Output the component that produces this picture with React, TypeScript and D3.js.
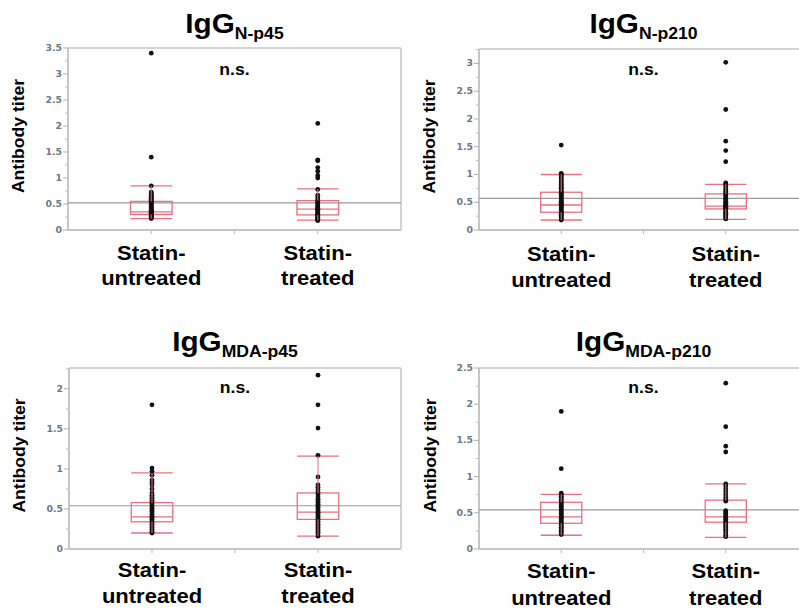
import * as d3 from 'd3';

// group labels (two lines each)
const groups = ['Statin-untreated', 'Statin-treated'];
const groupLines = [['Statin-', 'untreated'], ['Statin-', 'treated']];

// panel titles: "IgG" + subscript
const titleSubs = ['N-p45', 'N-p210', 'MDA-p45', 'MDA-p210'];
const yMaxes = [3.5, 3.26, 2.26, 2.5];
const grandMeans = [0.52, 0.57, 0.54, 0.54];

// individual antibody titers
const np45Untreated = [3.40, 1.40, 0.85, 0.73, 0.71, 0.69, 0.67, 0.65, 0.63, 0.61, 0.59, 0.57, 0.55, 0.53, 0.51, 0.49, 0.47, 0.45, 0.43, 0.41, 0.39, 0.38, 0.37, 0.36, 0.35, 0.34, 0.33, 0.32, 0.31, 0.30, 0.29, 0.28, 0.27, 0.26, 0.25, 0.24, 0.23, 0.22];
const np45Treated = [2.05, 1.35, 1.33, 1.20, 1.13, 1.05, 1.00, 0.78, 0.67, 0.62, 0.58, 0.55, 0.53, 0.50, 0.48, 0.46, 0.44, 0.42, 0.41, 0.40, 0.39, 0.37, 0.35, 0.33, 0.31, 0.30, 0.29, 0.28, 0.26, 0.25, 0.23, 0.22, 0.21, 0.20, 0.19, 0.18];
const np210Untreated = [1.53, 1.02, 1.00, 0.98, 0.95, 0.92, 0.90, 0.87, 0.85, 0.82, 0.80, 0.77, 0.75, 0.72, 0.70, 0.68, 0.66, 0.64, 0.62, 0.60, 0.58, 0.56, 0.54, 0.52, 0.50, 0.48, 0.46, 0.45, 0.44, 0.42, 0.40, 0.38, 0.36, 0.34, 0.32, 0.30, 0.28, 0.26, 0.24, 0.22, 0.20, 0.18];
const np210Treated = [3.02, 2.17, 1.60, 1.43, 1.23, 0.85, 0.83, 0.80, 0.76, 0.73, 0.70, 0.67, 0.65, 0.62, 0.60, 0.57, 0.55, 0.52, 0.50, 0.48, 0.46, 0.44, 0.43, 0.42, 0.41, 0.40, 0.39, 0.38, 0.36, 0.34, 0.32, 0.30, 0.28, 0.26, 0.24, 0.22, 0.20];
const mda45Untreated = [1.80, 1.01, 0.97, 0.92, 0.86, 0.83, 0.80, 0.75, 0.70, 0.67, 0.65, 0.63, 0.61, 0.59, 0.57, 0.55, 0.53, 0.51, 0.49, 0.47, 0.45, 0.43, 0.41, 0.40, 0.39, 0.37, 0.35, 0.33, 0.31, 0.29, 0.27, 0.25, 0.23, 0.21, 0.20];
const mda45Treated = [2.17, 1.80, 1.51, 1.17, 0.90, 0.80, 0.77, 0.74, 0.71, 0.68, 0.65, 0.62, 0.60, 0.58, 0.56, 0.54, 0.52, 0.50, 0.48, 0.46, 0.45, 0.43, 0.41, 0.39, 0.37, 0.35, 0.33, 0.31, 0.29, 0.27, 0.25, 0.23, 0.21, 0.19, 0.16];
const mda210Untreated = [1.90, 1.11, 0.77, 0.75, 0.73, 0.71, 0.69, 0.67, 0.65, 0.63, 0.61, 0.59, 0.57, 0.55, 0.53, 0.51, 0.49, 0.47, 0.45, 0.44, 0.42, 0.40, 0.38, 0.36, 0.34, 0.32, 0.30, 0.28, 0.26, 0.24, 0.22, 0.20];
const mda210Treated = [2.29, 1.69, 1.42, 1.34, 0.90, 0.87, 0.83, 0.79, 0.75, 0.71, 0.68, 0.66, 0.53, 0.51, 0.49, 0.47, 0.45, 0.43, 0.41, 0.39, 0.37, 0.35, 0.33, 0.31, 0.29, 0.27, 0.25, 0.22, 0.19, 0.17];

// box stats: [low whisker, q1, median, q3, high whisker]
const np45Boxes = [[0.22, 0.30, 0.35, 0.55, 0.85], [0.19, 0.29, 0.40, 0.565, 0.79]];
const np210Boxes = [[0.18, 0.32, 0.45, 0.68, 1.0], [0.19, 0.38, 0.43, 0.65, 0.82]];
const mda45Boxes = [[0.20, 0.34, 0.40, 0.58, 0.95], [0.16, 0.37, 0.46, 0.70, 1.16]];
const mda210Boxes = [[0.19, 0.355, 0.445, 0.645, 0.755], [0.16, 0.37, 0.445, 0.675, 0.90]];

const points = [
  [np45Untreated, np45Treated],
  [np210Untreated, np210Treated],
  [mda45Untreated, mda45Treated],
  [mda210Untreated, mda210Treated],
];
const boxes = [np45Boxes, np210Boxes, mda45Boxes, mda210Boxes];

// where each panel's plot sits on the page
const frames = [
  { x0: 68, x1: 401, y0: 48, y1: 230, titleY: 33, nsY: 75, labelX: 24, lineY: [260, 285] },
  { x0: 479, x1: 808, y0: 49, y1: 230, titleY: 33, nsY: 75, labelX: 435, lineY: [261, 287] },
  { x0: 69, x1: 401, y0: 368, y1: 549, titleY: 351, nsY: 393, labelX: 25, lineY: [577, 603] },
  { x0: 479, x1: 808, y0: 368, y1: 549, titleY: 351, nsY: 393, labelX: 436, lineY: [578, 605] },
];

const SANS = 'Liberation Sans, Arial, sans-serif';
const RED = '#ec6f7d';
const AXIS = '#c6c6c6';
const STRETCH = 1.1;

function Panel({ i }: { i: number }) {
  const f = frames[i];
  const y = d3.scaleLinear().domain([0, yMaxes[i]]).range([f.y1, f.y0]);
  const x = d3.scaleBand().domain(groups).range([f.x0, f.x1]).padding(0);
  const bw = x.bandwidth() * 0.25;
  const major = d3.range(0, yMaxes[i] + 0.001, 0.5);
  const minor = d3.range(0.25, yMaxes[i] + 0.001, 0.5);
  const cx = (f.x0 + f.x1) / 2;

  return (
    <g>
      {/* frame */}
      <line x1={f.x0} x2={f.x1} y1={f.y0} y2={f.y0} stroke={AXIS} strokeWidth={1.5} />
      <line x1={f.x1} x2={f.x1} y1={f.y0} y2={f.y1} stroke={AXIS} strokeWidth={1.5} />
      <line x1={f.x0} x2={f.x1} y1={f.y1} y2={f.y1} stroke={AXIS} strokeWidth={2} />
      <line x1={f.x0} x2={f.x0} y1={f.y0} y2={f.y1} stroke={AXIS} strokeWidth={2} />

      {/* y ticks */}
      {major.map(v => (
        <g key={'M' + v}>
          <line x1={f.x0 - 5} x2={f.x0} y1={y(v)} y2={y(v)} stroke="#b0b0b0" />
          <text
            transform={`translate(${f.x0 - 6},${y(v) + 3}) scale(${STRETCH},1)`}
            textAnchor="end"
            fontFamily="DejaVu Sans, Verdana, sans-serif"
            fontWeight="bold"
            fontSize={8.5}
            fill="#6c7888"
          >
            {d3.format('~g')(v)}
          </text>
        </g>
      ))}
      {minor.map(v => (
        <line key={'m' + v} x1={f.x0 - 3} x2={f.x0} y1={y(v)} y2={y(v)} stroke="#c0c0c0" />
      ))}

      {/* x ticks */}
      {[x(groups[0])! + x.bandwidth() / 2, cx, x(groups[1])! + x.bandwidth() / 2].map((t, k) => (
        <line key={k} x1={t} x2={t} y1={f.y1 + 1} y2={f.y1 + 4} stroke="#b8b8b8" />
      ))}

      {/* grand mean */}
      <line x1={f.x0} x2={f.x1} y1={y(grandMeans[i])} y2={y(grandMeans[i])} stroke="#9a9a9a" strokeWidth={1.2} />

      {groups.map((g, gi) => {
        const c = x(g)! + x.bandwidth() / 2;
        const [lo, q1, md, q3, hi] = boxes[i][gi];
        return (
          <g key={g}>
            <rect x={c - bw / 2} y={y(q3)} width={bw} height={y(q1) - y(q3)} fill="none" stroke={RED} strokeWidth={1.3} />
            <line x1={c - bw / 2} x2={c + bw / 2} y1={y(md)} y2={y(md)} stroke={RED} strokeWidth={1.3} />
            <line x1={c - bw / 2} x2={c + bw / 2} y1={y(hi)} y2={y(hi)} stroke={RED} strokeWidth={1.3} />
            <line x1={c - bw / 2} x2={c + bw / 2} y1={y(lo)} y2={y(lo)} stroke={RED} strokeWidth={1.3} />
            {points[i][gi].map((v, k) => (
              <circle key={k} cx={c} cy={y(v)} r={2.4} fill="#111" />
            ))}
            <line x1={c} x2={c} y1={y(q3)} y2={y(hi)} stroke={RED} strokeWidth={1.2} opacity={0.85} />
            <line x1={c} x2={c} y1={y(q1)} y2={y(lo)} stroke={RED} strokeWidth={1.2} opacity={0.85} />
            {groupLines[gi].map((t, li) => (
              <text
                key={li}
                transform={`translate(${c},${f.lineY[li]}) scale(${STRETCH},1)`}
                textAnchor="middle"
                fontFamily={SANS}
                fontWeight="bold"
                fontSize={20}
                fill="#000"
              >
                {t}
              </text>
            ))}
          </g>
        );
      })}

      {/* title */}
      <text
        transform={`translate(${cx},${f.titleY}) scale(${STRETCH},1)`}
        textAnchor="middle"
        fontFamily={SANS}
        fontWeight="bold"
        fontSize={27}
        fill="#000"
      >
        IgG
        <tspan fontSize={16} dy={6}>{titleSubs[i]}</tspan>
      </text>

      {/* n.s. */}
      <text
        transform={`translate(${cx},${f.nsY}) scale(${STRETCH},1)`}
        textAnchor="middle"
        fontFamily={SANS}
        fontWeight="bold"
        fontSize={16}
        fill="#000"
      >
        n.s.
      </text>

      {/* y label */}
      <text
        transform={`translate(${f.labelX},${(f.y0 + f.y1) / 2 - 3}) rotate(-90) scale(1.1,1)`}
        textAnchor="middle"
        fontFamily={SANS}
        fontWeight="bold"
        fontSize={16}
        fill="#000"
      >
        Antibody titer
      </text>
    </g>
  );
}

export default function App() {
  return (
    <svg
      width={799}
      height={610}
      style={{ position: 'absolute', left: 0, top: 0, background: '#fff' }}
    >
      {frames.map((_, i) => (
        <Panel key={i} i={i} />
      ))}
    </svg>
  );
}
